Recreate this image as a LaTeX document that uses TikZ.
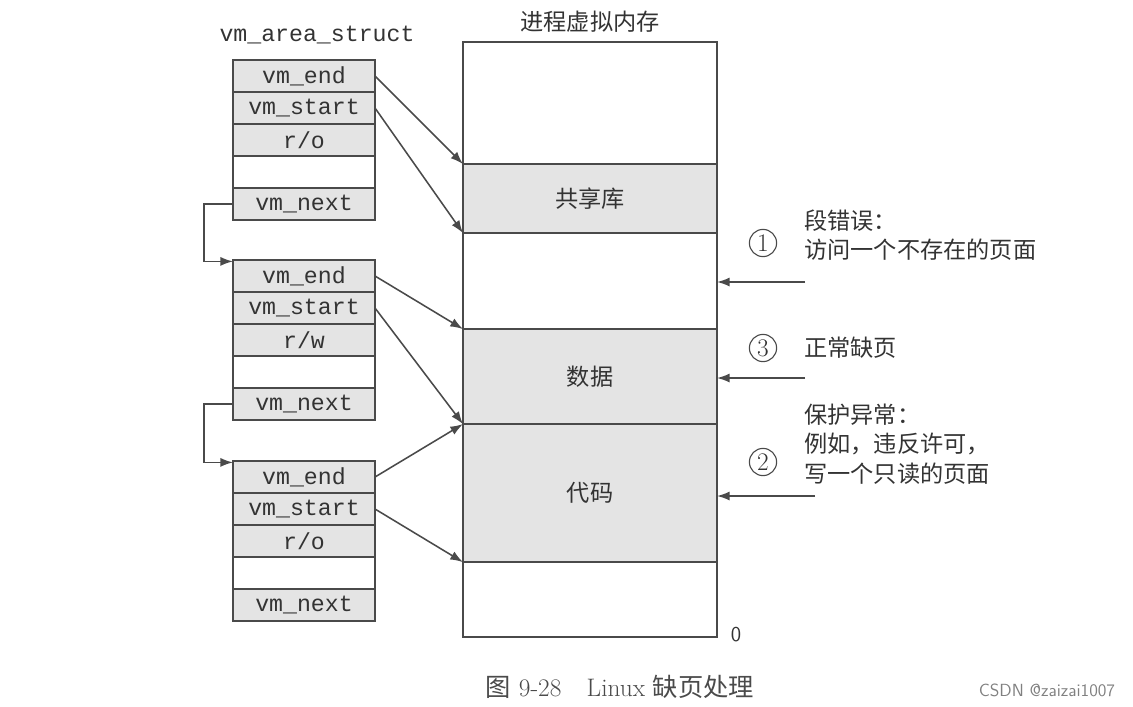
\documentclass[tikz,border=0pt]{standalone}
\usepackage{fontspec}
\setmonofont{Liberation Mono}
\newfontfamily\cjk{Noto Sans CJK SC}
\usetikzlibrary{arrows.meta, positioning}
\definecolor{linegray}{HTML}{4A4A4A}
\definecolor{boxgray}{HTML}{E4E4E4}
\definecolor{textgray}{HTML}{333333}

\begin{document}
\begin{tikzpicture}[
  x=0.025cm, y=-0.025cm,
  field/.style={draw=linegray, line width=1pt, fill=boxgray, minimum width=3.55cm,
                minimum height=0.8cm, inner sep=0pt, outer sep=0pt,
                font=\ttfamily\fontsize{16.5}{18}\selectfont, text=textgray},
  blank/.style={field, fill=white},
  seg/.style={draw=linegray, line width=1pt, fill=boxgray, minimum width=6.35cm,
              inner sep=0pt, outer sep=0pt, font=\cjk\fontsize{16.5}{18}\selectfont, text=textgray},
  hole/.style={seg, fill=white},
  arr/.style={draw=linegray, line width=1.1pt, -{Latex[length=9pt, width=6.5pt]}},
  note/.style={anchor=west, align=left, inner sep=0pt, text=textgray,
               font=\cjk\fontsize{16.5}{21}\selectfont},
  num/.style={draw=linegray, line width=0.8pt, circle, minimum size=0.68cm, inner sep=0pt,
              text=textgray, font=\fontsize{18}{18}\selectfont}
]
  \useasboundingbox (0,0) rectangle (1133,706);

  % labels on top
  \node[font=\ttfamily\fontsize{16.5}{18}\selectfont, text=textgray] (areatitle) at (317,35) {vm\_area\_struct};
  \node[font=\cjk\fontsize{16.5}{18}\selectfont, text=textgray] (memtitle) at (590,22) {进程虚拟内存};

  % first vm_area_struct
  \node[field] (e1) at (304,76) {vm\_end};
  \node[field, below=0pt of e1] (s1) {vm\_start};
  \node[field, below=0pt of s1] (p1) {r/o};
  \node[blank, below=0pt of p1] (b1) {};
  \node[field, below=0pt of b1] (n1) {vm\_next};

  % second vm_area_struct
  \node[field] (e2) at (304,276) {vm\_end};
  \node[field, below=0pt of e2] (s2) {vm\_start};
  \node[field, below=0pt of s2] (p2) {r/w};
  \node[blank, below=0pt of p2] (b2) {};
  \node[field, below=0pt of b2] (n2) {vm\_next};

  % third vm_area_struct
  \node[field] (e3) at (304,477) {vm\_end};
  \node[field, below=0pt of e3] (s3) {vm\_start};
  \node[field, below=0pt of s3] (p3) {r/o};
  \node[blank, below=0pt of p3] (b3) {};
  \node[field, below=0pt of b3] (n3) {vm\_next};

  % process virtual memory
  \node[hole, minimum height=3.05cm] (mtop) at (590,103) {};
  \node[seg, minimum height=1.725cm, below=0pt of mtop] (mlib) {共享库};
  \node[hole, minimum height=2.4cm, below=0pt of mlib] (mgap) {};
  \node[seg, minimum height=2.375cm, below=0pt of mgap] (mdata) {数据};
  \node[seg, minimum height=3.45cm, below=0pt of mdata] (mcode) {代码};
  \node[hole, minimum height=1.875cm, below=0pt of mcode] (mbot) {};
  \node[font=\sffamily\fontsize{15}{16}\selectfont, text=textgray] (zero) at (736,635) {0};

  % vm_next links
  \draw[arr] (n1.west) -- ++(-29,0) |- ([yshift=-1pt]e2.north west);
  \draw[arr] (n2.west) -- ++(-29,0) |- ([yshift=-1pt]e3.north west);

  % region bounds
  \foreach \x/\y in {e1/mlib.north west, s1/mlib.south west, e2/mdata.north west,
                     s2/mdata.south west, e3/mcode.north west, s3/mcode.south west}
    \draw[arr] (\x.east) -- (\y);

  % page faults
  \coordinate (f1) at (805,282);
  \coordinate (f3) at (805,378);
  \coordinate (f2) at (815,496);
  \foreach \f in {f1, f3, f2}
    \draw[arr] (\f) -- (\f -| mgap.east);

  \node[num] (c1) at (763,243) {1};
  \node[num] (c3) at (763,348) {3};
  \node[num] (c2) at (763,462) {2};
  \node[note] (t1) at (804,235) {段错误：\\访问一个不存在的页面};
  \node[note] (t3) at (804,348) {正常缺页};
  \node[note] (t2) at (804,444) {保护异常：\\例如，违反许可，\\写一个只读的页面};

  % caption
  \node[text=linegray, font=\fontsize{18}{20}\selectfont] (caption) at (620,687)
    {{\cjk 图}\ 9-28\hspace{1em}Linux\ {\cjk 缺页处理}};
  \node[text=gray, font=\sffamily\fontsize{12.5}{14}\selectfont] (mark) at (1047,690) {CSDN @zaizai1007};
\end{tikzpicture}
\end{document}
